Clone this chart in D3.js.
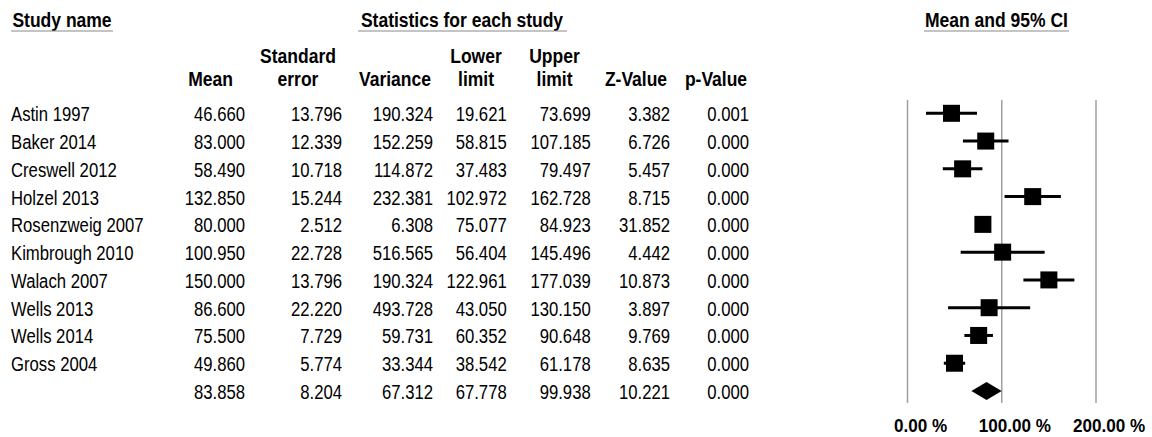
<!DOCTYPE html>
<html><head><meta charset="utf-8">
<script src="https://cdn.jsdelivr.net/npm/d3@7/dist/d3.min.js"></script>
<style>html,body{margin:0;padding:0;background:#fff;}svg{display:block;}</style>
</head><body>
<svg id="c" width="1152" height="437"></svg>
<script>
const studies = ["Astin 1997","Baker 2014","Creswell 2012","Holzel 2013","Rosenzweig 2007","Kimbrough 2010","Walach 2007","Wells 2013","Wells 2014","Gross 2004"];
const means = [46.660,83.000,58.490,132.850,80.000,100.950,150.000,86.600,75.500,49.860];
const stdErrors = [13.796,12.339,10.718,15.244,2.512,22.728,13.796,22.220,7.729,5.774];
const variances = [190.324,152.259,114.872,232.381,6.308,516.565,190.324,493.728,59.731,33.344];
const lowerLimits = [19.621,58.815,37.483,102.972,75.077,56.404,122.961,43.050,60.352,38.542];
const upperLimits = [73.699,107.185,79.497,162.728,84.923,145.496,177.039,130.150,90.648,61.178];
const zValues = [3.382,6.726,5.457,8.715,31.852,4.442,10.873,3.897,9.769,8.635];
const pValues = [0.001,0.000,0.000,0.000,0.000,0.000,0.000,0.000,0.000,0.000];
const summary = {mean:83.858, se:8.204, variance:67.312, lower:67.778, upper:99.938, z:10.221, p:0.000};
const xTicks = [0,100,200];
const xTickLabels = ["0.00 %","100.00 %","200.00 %"];

const svg = d3.select("#c");
const fmt = d3.format(".3f");
const FONT = "'Liberation Sans', Arial, sans-serif";
const SX = 0.835, SXB = 0.875;

function txt(x, y, s, opt={}) {
  const sx = opt.bold ? (opt.sx||SXB) : (opt.sx||SX);
  svg.append("text")
    .attr("transform", `translate(${x},${y}) scale(${sx},1)`)
    .attr("text-anchor", opt.anchor || "start")
    .attr("font-family", FONT)
    .attr("font-size", opt.size || 20)
    .attr("font-weight", opt.bold ? "bold" : "normal")
    .attr("fill", "#000")
    .text(s);
}

// rows
const nRows = studies.length + 1;
const y = d3.scaleLinear().domain([0, nRows - 1]).range([113.3, 391]);
const x = d3.scaleLinear().domain([0, 200]).range([907.5, 1096]);

// section titles with underlines
function title(xs, xe, s, lx1, lx2) {
  txt(xs, 26.5, s, {bold:true, anchor:"middle"});
  svg.append("line").attr("x1", lx1).attr("x2", lx2).attr("y1", 31).attr("y2", 31)
    .attr("stroke", "#8a8a8a").attr("stroke-width", 1.2);
}
title(62, 0, "Study name", 11, 113);
title(462, 0, "Statistics for each study", 358, 567);
title(996.5, 0, "Mean and 95% CI", 924, 1069);

// column headers
const cols = [
  {c:210.5, r:245, h:["","Mean"], vals: means, sv: summary.mean},
  {c:298, r:342, h:["Standard","error"], vals: stdErrors, sv: summary.se},
  {c:395, r:433, h:["","Variance"], vals: variances, sv: summary.variance},
  {c:476, r:506.7, h:["Lower","limit"], vals: lowerLimits, sv: summary.lower},
  {c:554.5, r:590.7, h:["Upper","limit"], vals: upperLimits, sv: summary.upper},
  {c:636, r:670, h:["","Z-Value"], vals: zValues, sv: summary.z},
  {c:716, r:749, h:["","p-Value"], vals: pValues, sv: summary.p}
];
cols.forEach(col => {
  if (col.h[0]) txt(col.c, 63, col.h[0], {bold:true, anchor:"middle"});
  txt(col.c, 86, col.h[1], {bold:true, anchor:"middle"});
  col.vals.forEach((v, i) => txt(col.r, y(i) + 8, fmt(v), {anchor:"end"}));
  txt(col.r, y(nRows - 1) + 8, fmt(col.sv), {anchor:"end"});
});
studies.forEach((s, i) => txt(11, y(i) + 8, s));

// gridlines
svg.append("g").selectAll("line").data(xTicks).join("line")
  .attr("x1", d => x(d)).attr("x2", d => x(d))
  .attr("y1", 100).attr("y2", 403)
  .attr("stroke", "#a0a0a0").attr("stroke-width", 1.5);

// tick labels
xTicks.forEach((t, i) => txt(x(t) + 13, 431.5, xTickLabels[i], {bold:true, anchor:"middle", size:19, sx:0.9}));

// CI lines and squares
const g = svg.append("g");
studies.forEach((s, i) => {
  g.append("line").attr("x1", x(lowerLimits[i])).attr("x2", x(upperLimits[i]))
    .attr("y1", y(i)).attr("y2", y(i)).attr("stroke", "#000").attr("stroke-width", 3);
  const sz = 17;
  g.append("rect").attr("x", x(means[i]) - sz/2).attr("y", y(i) - sz/2)
    .attr("width", sz).attr("height", sz).attr("fill", "#000");
});
// summary diamond
const yd = y(nRows - 1);
g.append("path").attr("d",
  `M${x(summary.lower)},${yd} L${x(summary.mean)},${yd-9} L${x(summary.upper)},${yd} L${x(summary.mean)},${yd+9} Z`)
  .attr("fill", "#000");
</script>
</body></html>
